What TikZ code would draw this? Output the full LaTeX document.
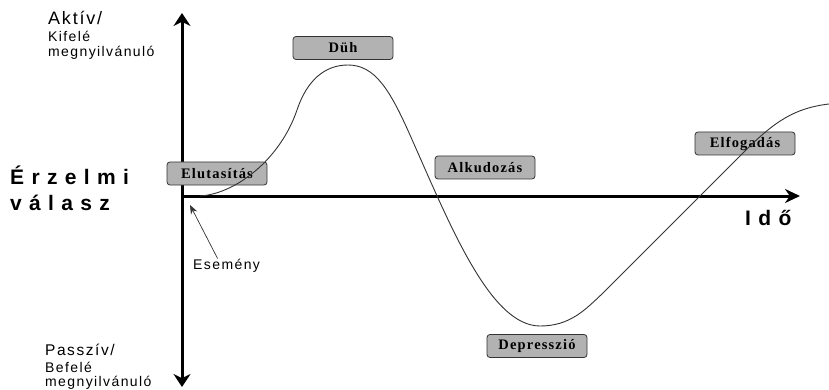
\documentclass[tikz,border=0pt]{standalone}
\usepackage{fontspec}
\setmainfont{Liberation Serif}
\setsansfont{Liberation Sans}
\newfontfamily\wideface[LetterSpace=35]{Liberation Sans}
\newfontfamily\sideface[LetterSpace=10]{Liberation Sans}
\newfontfamily\stageface[LetterSpace=8]{Liberation Serif}
\usetikzlibrary{arrows.meta}

\begin{document}
\begin{tikzpicture}[x=1pt,y=-1pt,
    stage/.style={draw=black!80,line width=0.8pt,fill=black!30,rounded corners=3pt,minimum width=100pt,minimum height=23pt,inner sep=0pt,font=\stageface\bfseries\fontsize{14.5}{14.5}\selectfont},
    axis/.style={line width=3pt},
    side/.style={anchor=base west,inner sep=0pt,font=\sideface\fontsize{14}{14}\selectfont},
    big/.style={anchor=base west,inner sep=0pt,font=\wideface\bfseries\fontsize{21}{21}\selectfont}]
    \useasboundingbox (0,0) rectangle (829,390);
    \coordinate (o) at (182,196);
    \coordinate (top) at (182,13);
    \coordinate (bot) at (182,387);
    \coordinate (tend) at (800,196);
    \coordinate (evt) at (190,205);
    \draw [axis,{Stealth[length=13pt,width=17pt]}-{Stealth[length=13pt,width=17pt]}] (bot) -- (top);
    \draw [axis,-{Stealth[length=15pt,width=14pt]}] (o) -- (tend);
    \node [stage] (elut) at (217,173.5) {Elutasítás};
    \node [stage] (duh) at (343,48) {Düh};
    \node [stage] (alku) at (485,167.5) {Alkudozás};
    \node [stage] (depr) at (537,346) {Depresszió};
    \node [stage] (elfo) at (745,143.5) {Elfogadás};
    \draw [black!80,line width=0.9pt] (200,196) .. controls (235,194) and (280,160) .. (297,110)
        .. controls (307,80) and (325,65) .. (348,65)
        .. controls (375,65) and (390,90) .. (410,135)
        .. controls (450,225) and (490,326) .. (540,326)
        .. controls (570,326) and (585,310) .. (603,293)
        -- (745,151)
        .. controls (775,121) and (795,108) .. (829,104);
    \node [big] (erz) at (10,185) {Érzelmi};
    \node [big] (val) at (10,210) {válasz};
    \node [big] (ido) at (745,225) {Idő};
    \node [side] (esem) at (193,269) {Esemény};
    \draw [black!80,line width=0.7pt,-{Stealth[length=9pt,width=7pt]}] ([xshift=-9pt]esem.north) -- (evt);
    \node [side,font=\sideface\fontsize{18}{18}\selectfont] (akt) at (48,25) {Aktív/};
    \node [side] (kif) at (48,42) {Kifelé};
    \node [side] (kif2) at (48,57) {megnyilvánuló};
    \node [side,font=\sideface\fontsize{15.5}{15.5}\selectfont] (pas) at (45,355) {Passzív/};
    \node [side] (bef) at (45,372) {Befelé};
    \node [side] (bef2) at (45,386) {megnyilvánuló};
\end{tikzpicture}
\end{document}
